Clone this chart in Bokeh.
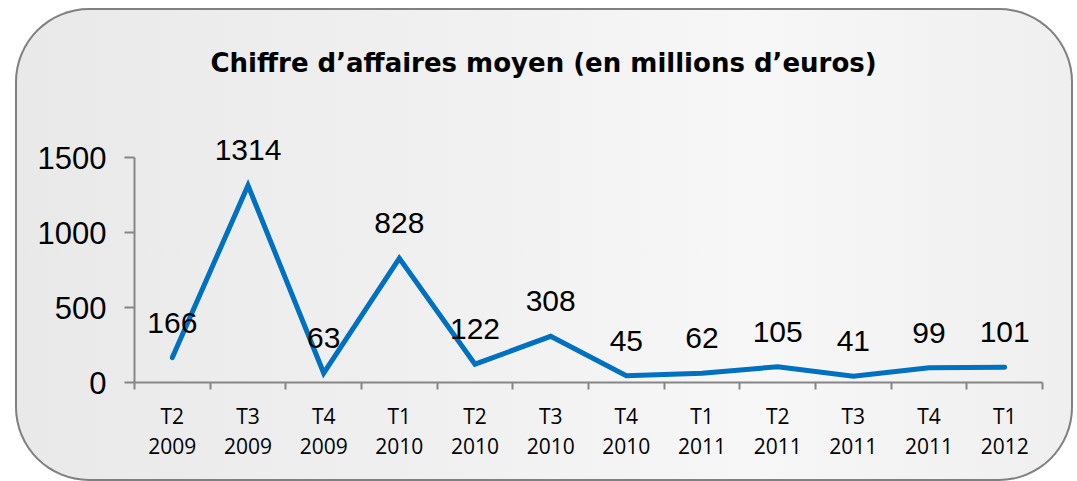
from bokeh.plotting import figure
from bokeh.models import ColumnDataSource, Range1d, FixedTicker
from bokeh.core.properties import value
from bokeh.embed import file_html
from bokeh.resources import INLINE

# ---- data ----
quarters = ["T2\n2009", "T3\n2009", "T4\n2009", "T1\n2010", "T2\n2010", "T3\n2010",
            "T4\n2010", "T1\n2011", "T2\n2011", "T3\n2011", "T4\n2011", "T1\n2012"]
values = [166, 1314, 63, 828, 122, 308, 45, 62, 105, 41, 99, 101]
y_ticks = [0, 500, 1000, 1500]
title_text = "Chiffre d\u2019affaires moyen (en millions d\u2019euros)"

xs = [i + 0.5 for i in range(len(quarters))]
src = ColumnDataSource(dict(x=xs, y=values, lbl=[str(v) for v in values]))

p = figure(width=1058, height=473, output_backend="svg", toolbar_location=None,
           x_range=Range1d(0, len(quarters)), y_range=Range1d(0, 1900),
           min_border_left=119, min_border_right=31, min_border_top=89, min_border_bottom=99,
           title=title_text)
p.margin = (8, 0, 0, 15)
p.border_fill_color = None
p.background_fill_color = None
p.outline_line_color = None
p.xgrid.visible = False
p.ygrid.visible = False
p.styles = {
    "border-radius": "74px",
    "background": "linear-gradient(to right, #e9e9e9 0%, #f1f1f1 45%, #f7f7f7 70%, #efefef 100%)",
    "box-shadow": "inset 0 0 0 2px #808080",
}

p.title.align = "left"
p.title.offset = 76
p.title.standoff = 39
p.title.text_font = "DejaVu Sans"
p.title.text_font_style = "bold"
p.title.text_font_size = "26px"
p.title.text_color = "#000000"

axis_col = "#868686"
# y axis
ya = p.yaxis[0]
ya.ticker = FixedTicker(ticks=y_ticks)
ya.bounds = (0, 1500)
ya.axis_line_color = axis_col
ya.axis_line_width = 2
ya.major_tick_line_color = axis_col
ya.major_tick_line_width = 2
ya.major_tick_out = 10
ya.major_tick_in = 0
ya.minor_tick_line_color = None
ya.major_label_text_font = "Liberation Sans"
ya.major_label_text_font_size = "31px"
ya.major_label_text_color = "#000000"
ya.major_label_standoff = 18

# x axis
xa = p.xaxis[0]
xa.ticker = FixedTicker(ticks=xs, minor_ticks=list(range(len(quarters) + 1)))
xa.major_label_overrides = {x: q for x, q in zip(xs, quarters)}
xa.axis_line_color = axis_col
xa.axis_line_width = 2
xa.major_tick_out = 0
xa.major_tick_in = 0
xa.major_tick_line_color = None
xa.minor_tick_line_color = axis_col
xa.minor_tick_line_width = 2
xa.minor_tick_out = 7
xa.minor_tick_in = 0
xa.major_label_text_font = "Open Sans"
xa.major_label_text_font_size = "21px"
xa.major_label_text_color = "#000000"
xa.major_label_text_line_height = 1.1
xa.major_label_standoff = 12

p.line("x", "y", source=src, line_color="#0070c0", line_width=5, line_cap="round", line_join="miter")
p.text("x", "y", text="lbl", source=src, y_offset=-35, text_align="center",
       text_baseline="alphabetic", text_font=value("Liberation Sans"),
       text_font_size="30px", text_color="#000000")

html = file_html(p, INLINE)
html = html.replace("<body>", "<body style=\"background:#e1e2dc; margin:0;\">", 1)
open("out.html", "w").write(html)
